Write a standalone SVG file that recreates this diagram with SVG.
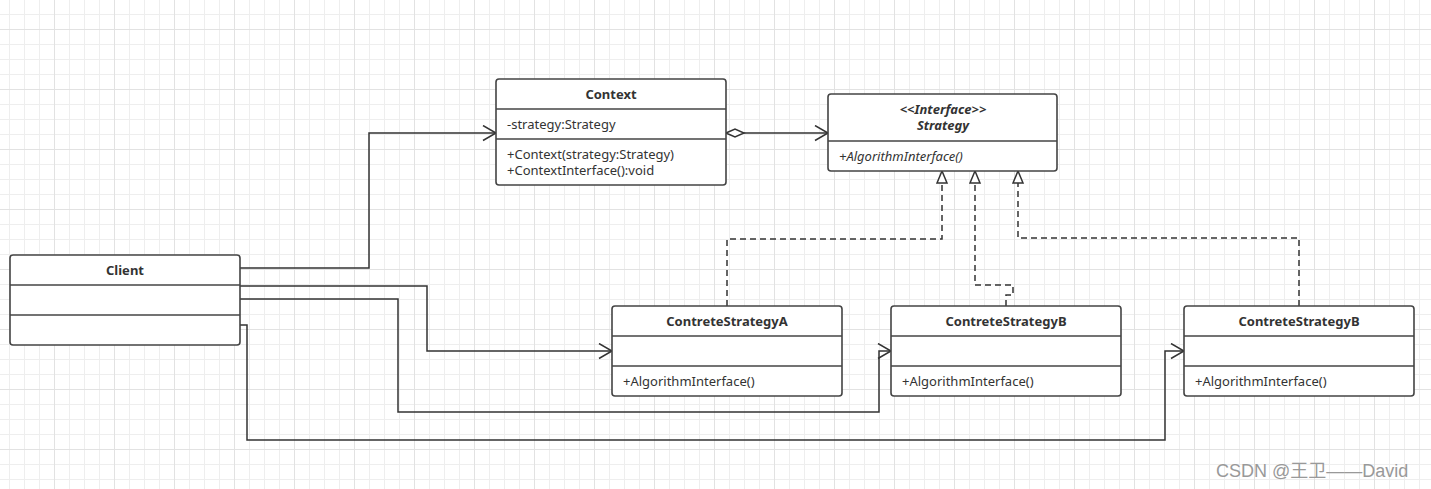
<svg xmlns="http://www.w3.org/2000/svg" width="1431" height="489" viewBox="0 0 1431 489">
<style>
.box{fill:#fff;stroke:#444;stroke-width:1.6}
.div{stroke:#444;stroke-width:1.6}
.t{font-family:"Noto Sans","Liberation Sans",sans-serif;font-size:13px;fill:#333}
.b{font-weight:bold;text-anchor:middle}
.i{font-style:italic}
.c{fill:none;stroke:#333;stroke-width:1.5}
.d{stroke-dasharray:6,4}
</style>
<defs>
<pattern id="grid" patternUnits="userSpaceOnUse" x="-6" y="29" width="60" height="60">
<path d="M15.5 0V60M30.5 0V60M45.5 0V60M0 15.5H60M0 30.5H60M0 45.5H60" stroke="#eeeeee" stroke-width="1" fill="none"/>
<path d="M0.5 0V60M0 0.5H60" stroke="#e2e2e2" stroke-width="1" fill="none"/>
</pattern>
<marker id="open" markerWidth="16" markerHeight="18" refX="14" refY="8" orient="auto" markerUnits="userSpaceOnUse">
<path d="M1 0.5L14 8L1 15.5" fill="none" stroke="#333" stroke-width="1.5"/>
</marker>
<marker id="tri" markerWidth="14" markerHeight="16" refX="13" refY="6" orient="auto" markerUnits="userSpaceOnUse">
<path d="M1 1L13 6L1 11Z" fill="#fff" stroke="#333" stroke-width="1.5"/>
</marker>
<marker id="dia" markerWidth="22" markerHeight="12" refX="1" refY="6" orient="auto" markerUnits="userSpaceOnUse">
<path d="M1 6L10 2L19 6L10 10Z" fill="#fff" stroke="#333" stroke-width="1.5"/>
</marker>
</defs>
<rect width="1431" height="489" fill="#fff"/>
<rect width="1431" height="489" fill="url(#grid)"/>

<g id="connectors">
<path class="c" d="M240 268H369V133H496" marker-end="url(#open)"/>
<path class="c" d="M240 286H427V351H612" marker-end="url(#open)"/>
<path class="c" d="M240 299H398V412H879V351H891" marker-end="url(#open)"/>
<path class="c" d="M240 325H247V440H1165V351H1184" marker-end="url(#open)"/>
<path class="c" d="M726 133H828" marker-start="url(#dia)" marker-end="url(#open)"/>
<path class="c d" d="M727 306V239H942V171" marker-end="url(#tri)"/>
<path class="c d" d="M1006 306V295H1013V285H975V171" marker-end="url(#tri)"/>
<path class="c d" d="M1299 306V238H1018V171" marker-end="url(#tri)"/>
</g>

<g id="context">
<rect class="box" x="496" y="79" width="230" height="106" rx="3"/>
<line class="div" x1="496" y1="109" x2="726" y2="109"/>
<line class="div" x1="496" y1="139" x2="726" y2="139"/>
<text class="t b" x="611" y="99">Context</text>
<text class="t" x="507" y="129">-strategy:Strategy</text>
<text class="t" x="507" y="159">+Context(strategy:Strategy)</text>
<text class="t" x="507" y="175">+ContextInterface():void</text>
</g>

<g id="strategy">
<rect class="box" x="828" y="94" width="229" height="77" rx="3"/>
<line class="div" x1="828" y1="141" x2="1057" y2="141"/>
<text class="t b i" x="943" y="114">&lt;&lt;Interface&gt;&gt;</text>
<text class="t b i" x="943" y="130">Strategy</text>
<text class="t i" x="839" y="161">+AlgorithmInterface()</text>
</g>

<g id="client">
<rect class="box" x="10" y="255" width="230" height="90" rx="3"/>
<line class="div" x1="10" y1="285" x2="240" y2="285"/>
<line class="div" x1="10" y1="315" x2="240" y2="315"/>
<text class="t b" x="125" y="275">Client</text>
</g>

<g id="strategyA">
<rect class="box" x="612" y="306" width="230" height="90" rx="3"/>
<line class="div" x1="612" y1="336" x2="842" y2="336"/>
<line class="div" x1="612" y1="366" x2="842" y2="366"/>
<text class="t b" x="727" y="326">ContreteStrategyA</text>
<text class="t" x="623" y="386">+AlgorithmInterface()</text>
</g>

<g id="strategyB1">
<rect class="box" x="891" y="306" width="230" height="90" rx="3"/>
<line class="div" x1="891" y1="336" x2="1121" y2="336"/>
<line class="div" x1="891" y1="366" x2="1121" y2="366"/>
<text class="t b" x="1006" y="326">ContreteStrategyB</text>
<text class="t" x="902" y="386">+AlgorithmInterface()</text>
</g>

<g id="strategyB2">
<rect class="box" x="1184" y="306" width="230" height="90" rx="3"/>
<line class="div" x1="1184" y1="336" x2="1414" y2="336"/>
<line class="div" x1="1184" y1="366" x2="1414" y2="366"/>
<text class="t b" x="1299" y="326">ContreteStrategyB</text>
<text class="t" x="1195" y="386">+AlgorithmInterface()</text>
</g>

<text x="1216" y="477" font-family="'Liberation Sans','Noto Sans CJK SC',sans-serif" font-size="18" fill="#999">CSDN @王卫——David</text>
</svg>
